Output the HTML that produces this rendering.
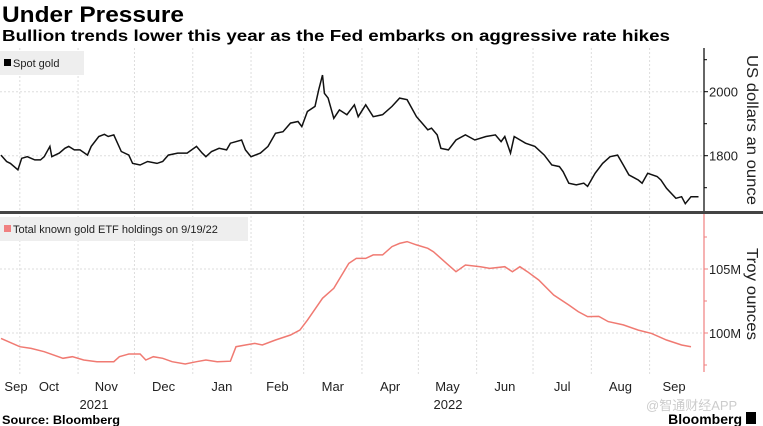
<!DOCTYPE html>
<html><head><meta charset="utf-8"><style>
body{margin:0;background:#fff;width:763px;height:426px;overflow:hidden;font-family:"Liberation Sans",sans-serif}
svg{display:block}
</style></head><body>
<svg id="c" width="763" height="426">
<text x="2" y="22" font-size="22" font-weight="bold" fill="#000" textLength="182" lengthAdjust="spacingAndGlyphs">Under Pressure</text>
<text x="2" y="41" font-size="16" font-weight="bold" fill="#000" textLength="668" lengthAdjust="spacingAndGlyphs">Bullion trends lower this year as the Fed embarks on aggressive rate hikes</text>
<g id="grid"></g>
<rect x="0" y="51" width="84" height="24" fill="#eeeeee"/>
<rect x="4" y="59" width="7" height="7" fill="#000"/>
<text x="13" y="67" font-size="11" fill="#222">Spot gold</text>
<rect x="0" y="217" width="248" height="24" fill="#eeeeee"/>
<rect x="4" y="225" width="7" height="7" fill="#f08080"/>
<text x="13" y="233" font-size="11" fill="#222">Total known gold ETF holdings on 9/19/22</text>
<line x1="704" y1="48" x2="704" y2="212" stroke="#000" stroke-width="1.2"/>
<line x1="704" y1="214" x2="704" y2="372" stroke="#f08080" stroke-width="1.2"/>
<rect x="0" y="211" width="763" height="3" fill="#444"/>
<g id="axes"></g>
<path id="gold" fill="none" stroke="#111" stroke-width="1.5"/>
<path id="etf" fill="none" stroke="#f07a72" stroke-width="1.5"/>
<text transform="translate(747,130) rotate(90)" text-anchor="middle" font-size="16" fill="#222" textLength="150" lengthAdjust="spacingAndGlyphs">US dollars an ounce</text>
<text transform="translate(747,294) rotate(90)" text-anchor="middle" font-size="16" fill="#222" textLength="92" lengthAdjust="spacingAndGlyphs">Troy ounces</text>
<text x="94" y="409" text-anchor="middle" font-size="13" fill="#222">2021</text>
<text x="448" y="409" text-anchor="middle" font-size="13" fill="#222">2022</text>
<text x="2" y="424" font-size="12" font-weight="bold" fill="#000" textLength="118" lengthAdjust="spacingAndGlyphs">Source: Bloomberg</text>
<text x="646" y="410" font-size="13" fill="#ccc" font-family="'Liberation Sans','Noto Sans CJK SC',sans-serif">@智通财经APP</text>
<text x="742" y="424" text-anchor="end" font-size="14" font-weight="bold" fill="#000">Bloomberg</text>
<rect x="746" y="412" width="10" height="12" fill="#000"/>
</svg>
<script>
const goldDays=[0,3,5,9,11,14,18,21,23,26,27,31,34,36,39,42,46,48,52,55,57,60,64,68,70,74,78,83,86,89,94,99,104,107,109,112,116,120,122,128,130,133,138,142,146,150,154,158,160,163,167,169,171,172,174,177,180,184,188,190,194,198,203,208,212,216,221,224,227,229,232,234,238,242,247,252,258,263,266,268,271,273,279,284,289,293,297,299,302,306,310,312,316,320,324,328,331,334,339,341,344,349,351,354,359,362,364,367,371];
const goldValues=[1802,1782,1776,1756,1792,1797,1787,1787,1797,1829,1797,1808,1823,1829,1818,1818,1802,1829,1860,1867,1860,1865,1813,1802,1776,1771,1782,1776,1782,1802,1808,1808,1829,1808,1797,1813,1823,1818,1839,1849,1818,1797,1808,1829,1870,1875,1902,1907,1891,1938,1954,2006,2052,1995,1980,1917,1943,1928,1959,1922,1959,1922,1928,1954,1980,1975,1922,1902,1881,1886,1865,1823,1818,1849,1865,1849,1860,1865,1844,1860,1808,1860,1839,1829,1802,1771,1766,1750,1714,1709,1714,1704,1745,1776,1797,1802,1771,1740,1724,1714,1745,1735,1724,1698,1667,1672,1650,1672,1672];
const etfDays=[0,10,16,23,33,38,44,51,60,63,68,74,77,81,86,91,98,104,109,115,122,125,130,135,139,146,154,159,163,171,177,185,189,194,198,203,208,212,216,221,227,230,237,242,247,255,260,268,272,276,280,286,294,302,307,312,318,323,331,339,346,354,362,367];
const etfValues=[99.58,98.93,98.8,98.54,98.02,98.15,97.89,97.76,97.76,98.15,98.36,98.36,97.89,98.15,98.02,97.76,97.58,97.76,97.89,97.76,97.8,98.93,99.06,99.19,99.06,99.45,99.84,100.23,101.0,102.71,103.49,105.44,105.83,105.83,106.1,106.1,106.75,107.0,107.14,106.88,106.62,106.35,105.44,104.79,105.31,105.18,105.05,105.18,104.79,105.18,104.79,104.14,102.97,102.19,101.67,101.28,101.3,100.89,100.63,100.23,99.97,99.45,99.06,98.93];
const monthLabels=["Sep","Oct","Nov","Dec","Jan","Feb","Mar","Apr","May","Jun","Jul","Aug","Sep"];
const monthStartDays=[-20,10,41,71,102,133,161,192,222,253,283,314,345];
const goldTicks=[1800,2000];
const goldMinorTicks=[1700,1900,2100];
const etfTicks=[100,105];
const etfTickLabels=["100M","105M"];

const PX=1.88;
const xS=d=>d*PX+1;
const yGold=v=>91.7+(2000-v)*0.32;
const yEtf=v=>269+(105-v)*12.8;
const NS="http://www.w3.org/2000/svg";
function mk(tag,attrs,parent){const e=document.createElementNS(NS,tag);for(const k in attrs)e.setAttribute(k,attrs[k]);parent.appendChild(e);return e;}
const grid=document.getElementById('grid'),axes=document.getElementById('axes');
for(let i=1;i<monthStartDays.length;i++){
  const x=xS(monthStartDays[i]);
  const l=mk('line',{x1:x,y1:48,x2:x,y2:376,stroke:'#ddd','stroke-dasharray':'2,2'},grid);
  
  
}
for(let i=0;i<monthLabels.length;i++){
  const s=Math.max(monthStartDays[i],0);
  const e=i+1<monthStartDays.length?monthStartDays[i+1]:371;
  let x=xS((s+e)/2);
  if(i===0)x=16;
  const t=mk('text',{x:x,y:391,'text-anchor':'middle','font-size':13,fill:'#222'},axes);
  t.textContent=monthLabels[i];
  
  
}
goldTicks.forEach(v=>{
  const y=yGold(v);
  const g=mk('line',{x1:0,y1:y,x2:704,y2:y,stroke:'#ddd','stroke-dasharray':'2,2'},grid);
  
  
  mk('line',{x1:704,y1:y,x2:708,y2:y,stroke:'#000'},axes);
  const t=mk('text',{x:709,y:y+5,'font-size':13,fill:'#222'},axes);
  t.textContent=v;
  
  
});
goldMinorTicks.forEach(v=>{const y=yGold(v);mk('line',{x1:704,y1:y,x2:707,y2:y,stroke:'#000'},axes);});
etfTicks.forEach((v,i)=>{
  const y=yEtf(v);
  const g=mk('line',{x1:0,y1:y,x2:704,y2:y,stroke:'#ddd','stroke-dasharray':'2,2'},grid);
  
  
  mk('line',{x1:704,y1:y,x2:708,y2:y,stroke:'#f08080'},axes);
  const t=mk('text',{x:709,y:y+5,'font-size':13,fill:'#222',textLength:32,lengthAdjust:'spacingAndGlyphs'},axes);
  t.textContent=etfTickLabels[i];
  
  
});
[97.5,102.5,107.5].forEach(v=>{const y=yEtf(v);mk('line',{x1:704,y1:y,x2:707,y2:y,stroke:'#f08080'},axes);});
document.getElementById('gold').setAttribute('d',goldDays.map((d,i)=>(i?'L':'M')+xS(d).toFixed(1)+','+yGold(goldValues[i]).toFixed(1)).join(''));
document.getElementById('etf').setAttribute('d',etfDays.map((d,i)=>(i?'L':'M')+xS(d).toFixed(1)+','+yEtf(etfValues[i]).toFixed(1)).join(''));
</script>
</body></html>
